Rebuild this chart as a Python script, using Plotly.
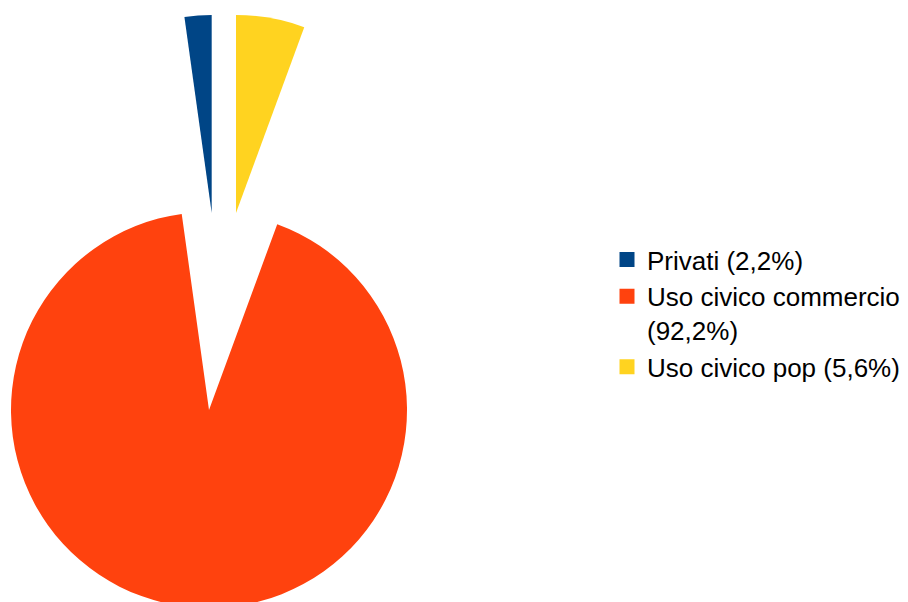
import plotly.graph_objects as go

labels = ["Privati (2,2%)", "Uso civico commercio<br>(92,2%)", "Uso civico pop (5,6%)"]
values = [2.2, 92.2, 5.6]
colors = ["#004586", "#ff420e", "#ffd320"]

W, H = 908, 602


def dom(cx, cy, r):
    x0 = max(0.0, (cx - r) / W)
    x1 = min(1.0, (cx + r) / W)
    y0 = max(0.0, 1 - (cy + r) / H)
    y1 = min(1.0, 1 - (cy - r) / H)
    return dict(x=[x0, x1], y=[y0, y1])


# exploded slice layout (apex pixel position and radius of each slice, in plot coords)
slice_geom = [(203.7, 205, 198), (201, 402, 198), (228, 205, 198)]

# first slice ends at 12 o'clock, others go counterclockwise
rot = -values[0] / sum(values) * 360

fig = go.Figure()

# legend-only trace (tiny, hidden underneath the big slice)
fig.add_trace(go.Pie(
    labels=labels, values=values, sort=False, direction="counterclockwise", rotation=rot,
    marker=dict(colors=colors, line=dict(width=3, color=colors)),
    textinfo="none", hoverinfo="skip",
    domain=dict(x=[200 / W, 200.1 / W], y=[1 - 500.1 / H, 1 - 500 / H]),
    showlegend=True,
))

for i, (cx, cy, r) in enumerate(slice_geom):
    cols = [c if j == i else "rgba(0,0,0,0)" for j, c in enumerate(colors)]
    fig.add_trace(go.Pie(
        labels=labels, values=values, sort=False, direction="counterclockwise", rotation=rot,
        marker=dict(colors=cols, line=dict(width=0)),
        textinfo="none", hoverinfo="skip",
        domain=dom(cx, cy, r),
        showlegend=False,
    ))

fig.update_layout(
    width=W, height=H,
    margin=dict(l=0, r=0, t=0, b=0),
    paper_bgcolor="white",
    plot_bgcolor="white",
    font=dict(family="Liberation Sans, Arial, sans-serif", size=26, color="#000000"),
    legend=dict(
        x=599 / W, xanchor="left",
        y=1 - 228 / H, yanchor="top",
        valign="top",
        font=dict(size=26, color="#000000"),
        bgcolor="rgba(0,0,0,0)",
    ),
)

fig.write_html("out.html")
